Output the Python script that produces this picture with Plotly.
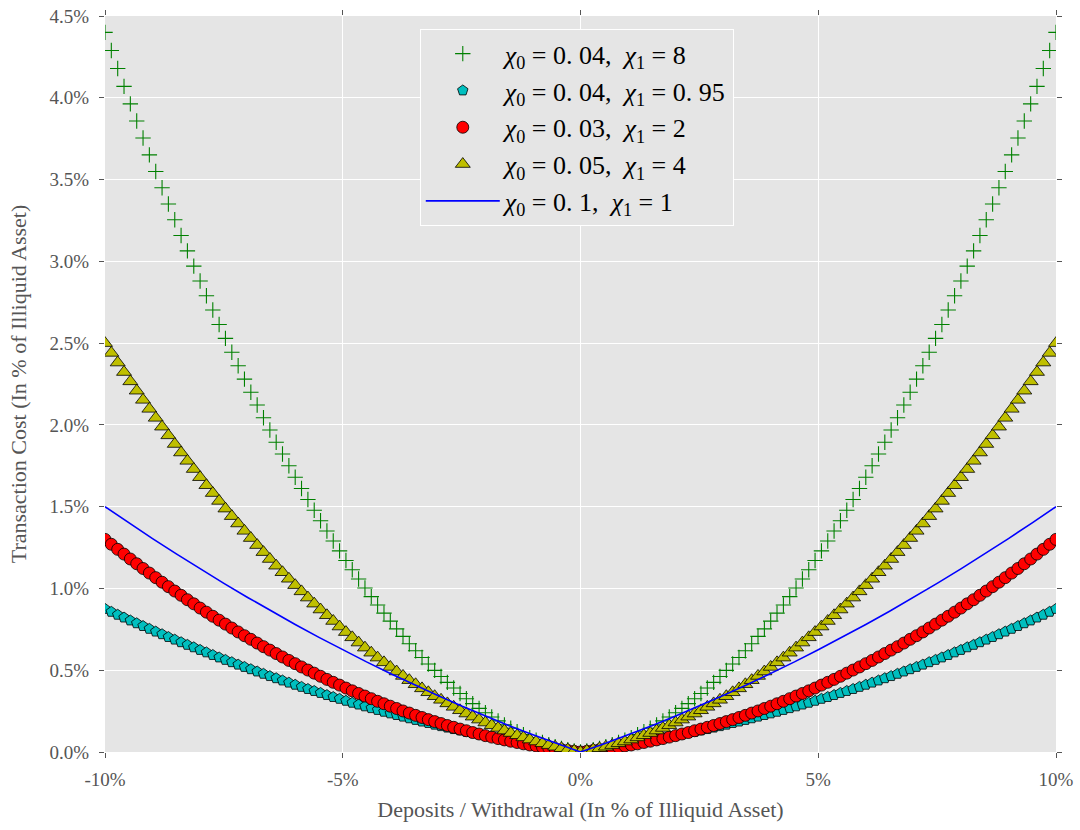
import plotly.graph_objects as go

# x grid (deposits / withdrawal, in % of illiquid asset)
x_vals = [
    -10.0, -9.867, -9.733, -9.6, -9.467, -9.333, -9.2, -9.067, -8.933, -8.8,
    -8.667, -8.533, -8.4, -8.267, -8.133, -8.0, -7.867, -7.733, -7.6, -7.467,
    -7.333, -7.2, -7.067, -6.933, -6.8, -6.667, -6.533, -6.4, -6.267, -6.133,
    -6.0, -5.867, -5.733, -5.6, -5.467, -5.333, -5.2, -5.067, -4.933, -4.8,
    -4.667, -4.533, -4.4, -4.267, -4.133, -4.0, -3.867, -3.733, -3.6, -3.467,
    -3.333, -3.2, -3.067, -2.933, -2.8, -2.667, -2.533, -2.4, -2.267, -2.133,
    -2.0, -1.867, -1.733, -1.6, -1.467, -1.333, -1.2, -1.067, -0.933, -0.8,
    -0.667, -0.533, -0.4, -0.267, -0.133, 0.0,
    0.133, 0.267, 0.4, 0.533, 0.667, 0.8, 0.933, 1.067, 1.2, 1.333,
    1.467, 1.6, 1.733, 1.867, 2.0, 2.133, 2.267, 2.4, 2.533, 2.667,
    2.8, 2.933, 3.067, 3.2, 3.333, 3.467, 3.6, 3.733, 3.867, 4.0,
    4.133, 4.267, 4.4, 4.533, 4.667, 4.8, 4.933, 5.067, 5.2, 5.333,
    5.467, 5.6, 5.733, 5.867, 6.0, 6.133, 6.267, 6.4, 6.533, 6.667,
    6.8, 6.933, 7.067, 7.2, 7.333, 7.467, 7.6, 7.733, 7.867, 8.0,
    8.133, 8.267, 8.4, 8.533, 8.667, 8.8, 8.933, 9.067, 9.2, 9.333,
    9.467, 9.6, 9.733, 9.867, 10.0,
]

# chi0 = 0.04, chi1 = 8
cost_a = [
    4.4, 4.289, 4.179, 4.07, 3.963, 3.858, 3.754, 3.651, 3.549, 3.45,
    3.351, 3.254, 3.158, 3.064, 2.971, 2.88, 2.79, 2.702, 2.614, 2.529,
    2.444, 2.362, 2.28, 2.2, 2.122, 2.044, 1.969, 1.894, 1.822, 1.75,
    1.68, 1.611, 1.544, 1.478, 1.414, 1.351, 1.29, 1.23, 1.171, 1.114,
    1.058, 1.003, 0.95, 0.899, 0.849, 0.8, 0.753, 0.707, 0.662, 0.619,
    0.578, 0.538, 0.499, 0.462, 0.426, 0.391, 0.358, 0.326, 0.296, 0.267,
    0.24, 0.214, 0.19, 0.166, 0.145, 0.124, 0.106, 0.088, 0.072, 0.058,
    0.044, 0.033, 0.022, 0.014, 0.006, 0.0,
    0.006, 0.014, 0.022, 0.033, 0.044, 0.058, 0.072, 0.088, 0.106, 0.124,
    0.145, 0.166, 0.19, 0.214, 0.24, 0.267, 0.296, 0.326, 0.358, 0.391,
    0.426, 0.462, 0.499, 0.538, 0.578, 0.619, 0.662, 0.707, 0.753, 0.8,
    0.849, 0.899, 0.95, 1.003, 1.058, 1.114, 1.171, 1.23, 1.29, 1.351,
    1.414, 1.478, 1.544, 1.611, 1.68, 1.75, 1.822, 1.894, 1.969, 2.044,
    2.122, 2.2, 2.28, 2.362, 2.444, 2.529, 2.614, 2.702, 2.79, 2.88,
    2.971, 3.064, 3.158, 3.254, 3.351, 3.45, 3.549, 3.651, 3.754, 3.858,
    3.963, 4.07, 4.179, 4.289, 4.4,
]

# chi0 = 0.04, chi1 = 0.95
cost_b = [
    0.875, 0.857, 0.839, 0.822, 0.804, 0.787, 0.77, 0.753, 0.736, 0.72,
    0.703, 0.687, 0.671, 0.655, 0.64, 0.624, 0.609, 0.593, 0.578, 0.563,
    0.549, 0.534, 0.52, 0.506, 0.492, 0.478, 0.464, 0.451, 0.437, 0.424,
    0.411, 0.398, 0.385, 0.373, 0.361, 0.348, 0.336, 0.325, 0.313, 0.301,
    0.29, 0.279, 0.268, 0.257, 0.246, 0.236, 0.226, 0.216, 0.206, 0.196,
    0.186, 0.177, 0.167, 0.158, 0.149, 0.14, 0.132, 0.123, 0.115, 0.107,
    0.099, 0.091, 0.084, 0.076, 0.069, 0.062, 0.055, 0.048, 0.041, 0.035,
    0.029, 0.023, 0.017, 0.011, 0.005, 0.0,
    0.005, 0.011, 0.017, 0.023, 0.029, 0.035, 0.041, 0.048, 0.055, 0.062,
    0.069, 0.076, 0.084, 0.091, 0.099, 0.107, 0.115, 0.123, 0.132, 0.14,
    0.149, 0.158, 0.167, 0.177, 0.186, 0.196, 0.206, 0.216, 0.226, 0.236,
    0.246, 0.257, 0.268, 0.279, 0.29, 0.301, 0.313, 0.325, 0.336, 0.348,
    0.361, 0.373, 0.385, 0.398, 0.411, 0.424, 0.437, 0.451, 0.464, 0.478,
    0.492, 0.506, 0.52, 0.534, 0.549, 0.563, 0.578, 0.593, 0.609, 0.624,
    0.64, 0.655, 0.671, 0.687, 0.703, 0.72, 0.736, 0.753, 0.77, 0.787,
    0.804, 0.822, 0.839, 0.857, 0.875,
]

# chi0 = 0.03, chi1 = 2
cost_c = [
    1.3, 1.27, 1.239, 1.21, 1.18, 1.151, 1.122, 1.094, 1.066, 1.038,
    1.011, 0.984, 0.958, 0.931, 0.906, 0.88, 0.855, 0.83, 0.806, 0.782,
    0.758, 0.734, 0.711, 0.689, 0.666, 0.644, 0.623, 0.602, 0.581, 0.56,
    0.54, 0.52, 0.501, 0.482, 0.463, 0.444, 0.426, 0.409, 0.391, 0.374,
    0.358, 0.342, 0.326, 0.31, 0.295, 0.28, 0.266, 0.251, 0.238, 0.224,
    0.211, 0.198, 0.186, 0.174, 0.162, 0.151, 0.14, 0.13, 0.119, 0.11,
    0.1, 0.091, 0.082, 0.074, 0.066, 0.058, 0.05, 0.043, 0.037, 0.03,
    0.024, 0.019, 0.014, 0.009, 0.004, 0.0,
    0.004, 0.009, 0.014, 0.019, 0.024, 0.03, 0.037, 0.043, 0.05, 0.058,
    0.066, 0.074, 0.082, 0.091, 0.1, 0.11, 0.119, 0.13, 0.14, 0.151,
    0.162, 0.174, 0.186, 0.198, 0.211, 0.224, 0.238, 0.251, 0.266, 0.28,
    0.295, 0.31, 0.326, 0.342, 0.358, 0.374, 0.391, 0.409, 0.426, 0.444,
    0.463, 0.482, 0.501, 0.52, 0.54, 0.56, 0.581, 0.602, 0.623, 0.644,
    0.666, 0.689, 0.711, 0.734, 0.758, 0.782, 0.806, 0.83, 0.855, 0.88,
    0.906, 0.931, 0.958, 0.984, 1.011, 1.038, 1.066, 1.094, 1.122, 1.151,
    1.18, 1.21, 1.239, 1.27, 1.3,
]

# chi0 = 0.05, chi1 = 4
cost_d = [
    2.5, 2.44, 2.381, 2.323, 2.266, 2.209, 2.153, 2.098, 2.043, 1.989,
    1.936, 1.883, 1.831, 1.78, 1.73, 1.68, 1.631, 1.583, 1.535, 1.488,
    1.442, 1.397, 1.352, 1.308, 1.265, 1.222, 1.18, 1.139, 1.099, 1.059,
    1.02, 0.982, 0.944, 0.907, 0.871, 0.836, 0.801, 0.767, 0.733, 0.701,
    0.669, 0.638, 0.607, 0.577, 0.548, 0.52, 0.492, 0.465, 0.439, 0.414,
    0.389, 0.365, 0.341, 0.319, 0.297, 0.276, 0.255, 0.235, 0.216, 0.198,
    0.18, 0.163, 0.147, 0.131, 0.116, 0.102, 0.089, 0.076, 0.064, 0.053,
    0.042, 0.032, 0.023, 0.015, 0.007, 0.0,
    0.007, 0.015, 0.023, 0.032, 0.042, 0.053, 0.064, 0.076, 0.089, 0.102,
    0.116, 0.131, 0.147, 0.163, 0.18, 0.198, 0.216, 0.235, 0.255, 0.276,
    0.297, 0.319, 0.341, 0.365, 0.389, 0.414, 0.439, 0.465, 0.492, 0.52,
    0.548, 0.577, 0.607, 0.638, 0.669, 0.701, 0.733, 0.767, 0.801, 0.836,
    0.871, 0.907, 0.944, 0.982, 1.02, 1.059, 1.099, 1.139, 1.18, 1.222,
    1.265, 1.308, 1.352, 1.397, 1.442, 1.488, 1.535, 1.583, 1.631, 1.68,
    1.73, 1.78, 1.831, 1.883, 1.936, 1.989, 2.043, 2.098, 2.153, 2.209,
    2.266, 2.323, 2.381, 2.44, 2.5,
]

# chi0 = 0.1, chi1 = 1 (line)
x_line = [
    -10.0, -9.5, -9.0, -8.5, -8.0, -7.5, -7.0, -6.5, -6.0, -5.5,
    -5.0, -4.5, -4.0, -3.5, -3.0, -2.5, -2.0, -1.5, -1.0, -0.5, 0.0,
    0.5, 1.0, 1.5, 2.0, 2.5, 3.0, 3.5, 4.0, 4.5, 5.0,
    5.5, 6.0, 6.5, 7.0, 7.5, 8.0, 8.5, 9.0, 9.5, 10.0,
]
cost_e = [
    1.5, 1.401, 1.305, 1.211, 1.12, 1.031, 0.945, 0.861, 0.78, 0.701,
    0.625, 0.551, 0.48, 0.411, 0.345, 0.281, 0.22, 0.161, 0.105, 0.051, 0.0,
    0.051, 0.105, 0.161, 0.22, 0.281, 0.345, 0.411, 0.48, 0.551, 0.625,
    0.701, 0.78, 0.861, 0.945, 1.031, 1.12, 1.211, 1.305, 1.401, 1.5,
]

series_names = [
    "<i>χ</i><sub>0</sub> = 0. 04,  <i>χ</i><sub>1</sub> = 8",
    "<i>χ</i><sub>0</sub> = 0. 04,  <i>χ</i><sub>1</sub> = 0. 95",
    "<i>χ</i><sub>0</sub> = 0. 03,  <i>χ</i><sub>1</sub> = 2",
    "<i>χ</i><sub>0</sub> = 0. 05,  <i>χ</i><sub>1</sub> = 4",
    "<i>χ</i><sub>0</sub> = 0. 1,  <i>χ</i><sub>1</sub> = 1",
]

x_tickvals = [-10, -5, 0, 5, 10]
x_ticktext = ["-10%", "-5%", "0%", "5%", "10%"]
y_tickvals = [0.0, 0.5, 1.0, 1.5, 2.0, 2.5, 3.0, 3.5, 4.0, 4.5]
y_ticktext = ["0.0%", "0.5%", "1.0%", "1.5%", "2.0%", "2.5%", "3.0%", "3.5%", "4.0%", "4.5%"]

fig = go.Figure()
fig.add_trace(go.Scatter(
    x=x_vals, y=cost_a, mode="markers", name=series_names[0],
    marker=dict(symbol="cross-thin", size=11, line=dict(color="#008000", width=1.1)),
))
fig.add_trace(go.Scatter(
    x=x_vals, y=cost_b, mode="markers", name=series_names[1],
    marker=dict(symbol="pentagon", size=11, color="#00BFBF", line=dict(color="black", width=0.8)),
))
fig.add_trace(go.Scatter(
    x=x_vals, y=cost_c, mode="markers", name=series_names[2],
    marker=dict(symbol="circle", size=12, color="#FF0000", line=dict(color="black", width=0.8)),
))
fig.add_trace(go.Scatter(
    x=x_vals, y=cost_d, mode="markers", name=series_names[3],
    marker=dict(symbol="triangle-up", size=13, color="#BFBF00", line=dict(color="black", width=0.8)),
))
fig.add_trace(go.Scatter(
    x=x_line, y=cost_e, mode="lines", name=series_names[4],
    line=dict(color="#0000FF", width=1.6),
))

axis_font = dict(family="Liberation Serif", size=19, color="#555555")
fig.update_layout(
    width=1080, height=830,
    margin=dict(l=105, r=24, t=16, b=78),
    paper_bgcolor="white",
    plot_bgcolor="#E5E5E5",
    font=dict(family="Liberation Serif", color="#555555"),
    showlegend=True,
    legend=dict(
        x=0.331, y=0.982, xanchor="left", yanchor="top",
        bgcolor="#E5E5E5", bordercolor="white", borderwidth=1,
        font=dict(family="Liberation Serif", size=26, color="black"),
        itemwidth=74, tracegroupgap=0,
    ),
)
fig.update_xaxes(
    range=[-10, 10], tickvals=x_tickvals, ticktext=x_ticktext,
    showgrid=True, gridcolor="white", gridwidth=1, zeroline=False,
    ticks="outside", ticklen=5, tickcolor="#555555", mirror="ticks",
    tickfont=axis_font, automargin=False, ticklabelstandoff=5,
    ticklabeloverflow="allow",
    title=dict(text="Deposits / Withdrawal (In % of Illiquid Asset)",
               font=dict(family="Liberation Serif", size=22, color="#555555"), standoff=12),
)
fig.update_yaxes(
    range=[0, 4.5], tickvals=y_tickvals, ticktext=y_ticktext,
    showgrid=True, gridcolor="white", gridwidth=1, zeroline=False,
    ticks="outside", ticklen=5, tickcolor="#555555", mirror="ticks",
    tickfont=axis_font, automargin=False, ticklabelstandoff=6,
    ticklabeloverflow="allow",
    title=dict(text="Transaction Cost (In % of Illiquid Asset)",
               font=dict(family="Liberation Serif", size=22, color="#555555"), standoff=16),
)

fig.write_html("out.html", config={"displayModeBar": False},
               post_script="document.body.style.margin='0';")
